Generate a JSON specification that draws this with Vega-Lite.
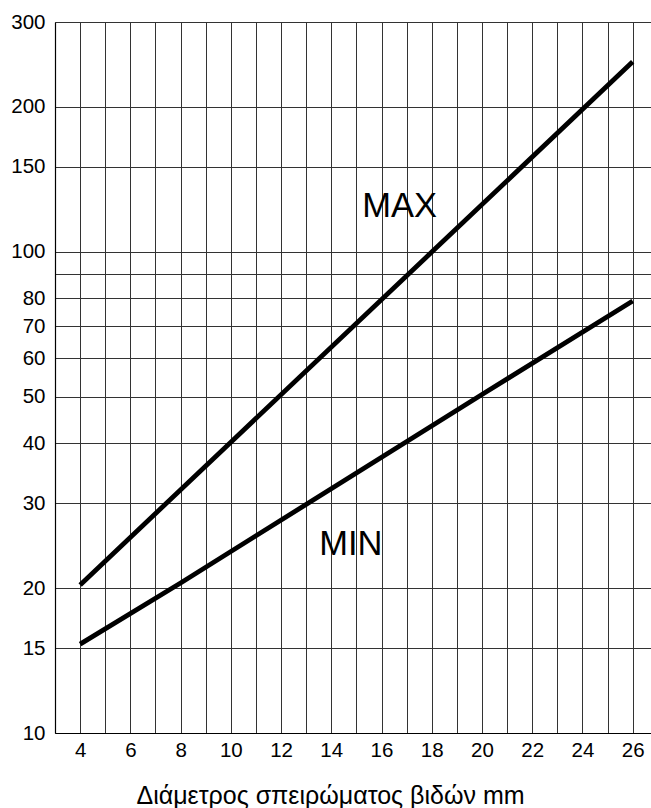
{
  "$schema": "https://vega.github.io/schema/vega-lite/v6.json",
  "autosize": {"type": "none"},
  "width": 596,
  "height": 711,
  "padding": {"left": 55, "top": 22, "right": 0, "bottom": 75},
  "background": "white",
  "config": {
    "font": "Liberation Sans",
    "view": {"stroke": null}
  },
  "datasets": {
    "lines": [
      {"series": "MAX", "d": 4, "v": 20.3},
      {"series": "MAX", "d": 10, "v": 40.2},
      {"series": "MAX", "d": 18, "v": 99.8},
      {"series": "MAX", "d": 26, "v": 248},
      {"series": "MIN", "d": 4, "v": 15.3},
      {"series": "MIN", "d": 8, "v": 20.5},
      {"series": "MIN", "d": 20, "v": 50.5},
      {"series": "MIN", "d": 26, "v": 79}
    ],
    "labels": [
      {"text": "MAX", "d": 16.72, "v": 123.8},
      {"text": "MIN", "d": 14.78, "v": 24.6}
    ]
  },
  "encoding": {
    "x": {
      "field": "d",
      "type": "quantitative",
      "scale": {"domain": [3, 26.73], "nice": false, "zero": false},
      "axis": {
        "values": [3,4,5,6,7,8,9,10,11,12,13,14,15,16,17,18,19,20,21,22,23,24,25,26],
        "labelExpr": "datum.value % 2 == 0 ? datum.label : ''",
        "labelOverlap": false,
        "labelFlush": false,
        "labelPadding": 7,
        "labelBaseline": "top",
        "labelFont": "Liberation Sans",
        "labelFontSize": 20.5,
        "labelColor": "black",
        "ticks": false,
        "domainColor": "black",
        "domainWidth": 1.2,
        "grid": true,
        "gridColor": "#333333",
        "gridWidth": 1,
        "gridOpacity": 1,
        "title": "Διάμετρος σπειρώματος βιδών mm",
        "titleFont": "Liberation Sans",
        "titleFontSize": 25,
        "titleFontWeight": "normal",
        "titleColor": "black",
        "titleX": 275,
        "titleY": 70,
        "titleBaseline": "alphabetic",
        "titleAlign": "center"
      }
    },
    "y": {
      "field": "v",
      "type": "quantitative",
      "scale": {"type": "log", "domain": [10, 300], "nice": false},
      "axis": {
        "values": [10,15,20,30,40,50,60,70,80,90,100,150,200,300],
        "labelExpr": "datum.value == 90 ? '' : datum.label",
        "labelOverlap": false,
        "labelFlush": false,
        "labelPadding": 10,
        "labelFont": "Liberation Sans",
        "labelFontSize": 20.5,
        "labelColor": "black",
        "ticks": false,
        "domainColor": "black",
        "domainWidth": 1.2,
        "grid": true,
        "gridColor": "#333333",
        "gridWidth": 1,
        "gridOpacity": 1,
        "title": null
      }
    }
  },
  "layer": [
    {
      "data": {"name": "lines"},
      "mark": {"type": "line", "color": "black", "strokeWidth": 4.8, "clip": true},
      "encoding": {
        "detail": {"field": "series", "type": "nominal"}
      }
    },
    {
      "data": {"name": "labels"},
      "mark": {"type": "text", "fontSize": 34.5, "color": "black", "font": "Liberation Sans", "align": "center", "baseline": "middle"},
      "encoding": {
        "text": {"field": "text", "type": "nominal"}
      }
    }
  ]
}
